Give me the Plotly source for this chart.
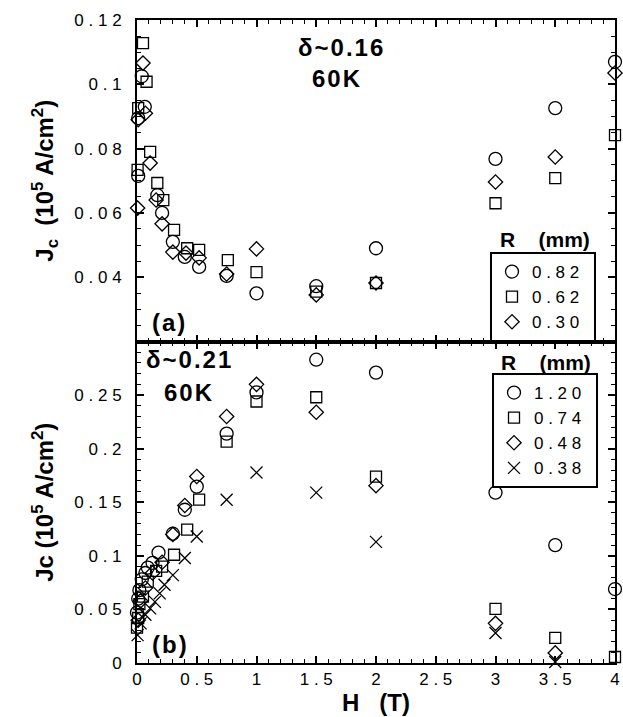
import plotly.graph_objects as go

# ---------------- data ----------------
# panel (a): delta ~ 0.16, 60 K
a_labels = ["0.82", "0.62", "0.30"]
a_c_H = [0.01, 0.01, 0.04, 0.065, 0.17, 0.21, 0.30, 0.40, 0.52, 0.75, 1.0, 1.5, 2.0, 3.0, 3.5, 4.0]
a_c_J = [0.0715, 0.0895, 0.1025, 0.0930, 0.0655, 0.0600, 0.0510, 0.0463, 0.0432, 0.0404, 0.0350, 0.0372, 0.0490, 0.0768, 0.0926, 0.1070]
a_s_H = [0.005, 0.01, 0.05, 0.08, 0.11, 0.17, 0.22, 0.31, 0.42, 0.52, 0.76, 1.0, 1.5, 2.0, 3.0, 3.5, 4.0]
a_s_J = [0.0734, 0.0926, 0.1128, 0.1008, 0.0790, 0.0693, 0.0640, 0.0547, 0.0490, 0.0485, 0.0453, 0.0416, 0.0355, 0.0382, 0.0630, 0.0708, 0.0842]
a_d_H = [0.005, 0.01, 0.05, 0.07, 0.11, 0.16, 0.21, 0.30, 0.41, 0.52, 0.75, 1.0, 1.5, 2.0, 3.0, 3.5, 4.0]
a_d_J = [0.0615, 0.0890, 0.1066, 0.0910, 0.0755, 0.0640, 0.0566, 0.0478, 0.0475, 0.0460, 0.0410, 0.0488, 0.0345, 0.0382, 0.0696, 0.0774, 0.1035]

# panel (b): delta ~ 0.21, 60 K
b_labels = ["1.20", "0.74", "0.48", "0.38"]
b_c_H = [0.0, 0.01, 0.02, 0.04, 0.07, 0.09, 0.13, 0.18, 0.30, 0.40, 0.50, 0.75, 1.0, 1.5, 2.0, 3.0, 3.5, 4.0]
b_c_J = [0.047, 0.060, 0.068, 0.078, 0.084, 0.089, 0.0935, 0.103, 0.1206, 0.143, 0.1646, 0.214, 0.2525, 0.283, 0.271, 0.159, 0.110, 0.069]
b_s_H = [0.0, 0.01, 0.02, 0.05, 0.09, 0.16, 0.21, 0.31, 0.42, 0.52, 0.75, 1.0, 1.5, 2.0, 3.0, 3.5, 4.0]
b_s_J = [0.033, 0.042, 0.055, 0.062, 0.076, 0.086, 0.090, 0.101, 0.1244, 0.1524, 0.2066, 0.244, 0.248, 0.174, 0.0505, 0.0234, 0.0056]
b_d_H = [0.01, 0.03, 0.07, 0.13, 0.21, 0.30, 0.40, 0.50, 0.75, 1.0, 1.5, 2.0, 3.0, 3.5]
b_d_J = [0.040, 0.058, 0.070, 0.084, 0.094, 0.120, 0.147, 0.174, 0.230, 0.260, 0.234, 0.1655, 0.037, 0.0094]
b_x_H = [0.005, 0.03, 0.07, 0.11, 0.15, 0.19, 0.23, 0.30, 0.40, 0.50, 0.75, 1.0, 1.5, 2.0, 3.0, 3.5]
b_x_J = [0.026, 0.037, 0.045, 0.051, 0.057, 0.065, 0.073, 0.082, 0.098, 0.118, 0.1524, 0.1777, 0.159, 0.113, 0.028, 0.001]

# tick labels
x_tickvals = [0, 0.5, 1, 1.5, 2, 2.5, 3, 3.5, 4]
x_ticktext = ["0", "0.5", "1", "1.5", "2", "2.5", "3", "3.5", "4"]
ya_tickvals = [0.04, 0.06, 0.08, 0.1, 0.12]
ya_ticktext = ["0.04", "0.06", "0.08", "0.1", "0.12"]
yb_tickvals = [0, 0.05, 0.1, 0.15, 0.2, 0.25]
yb_ticktext = ["0", "0.05", "0.1", "0.15", "0.2", "0.25"]


def spaced(s, sep=" "):
    return sep.join(list(s))


HAIR = "\u200a"
FONT = "Liberation Sans, Arial, Helvetica, sans-serif"
BLACK = "black"

FIG_W, FIG_H = 623, 717
PLOT_L, PLOT_R, PLOT_T, PLOT_B = 137, 615, 20, 663   # pixel positions of the plot area

fig = go.Figure()

mk_line = dict(color=BLACK, width=1.3)


def add(H, J, sym, size, name, xa, ya, legend):
    fig.add_trace(go.Scatter(
        x=H, y=J, mode="markers", name=spaced(name) + "\u00a0\u00a0",
        marker=dict(symbol=sym, size=size, color=BLACK, line=mk_line),
        xaxis=xa, yaxis=ya, legend=legend, cliponaxis=False,
    ))


add(a_c_H, a_c_J, "circle-open", 13, a_labels[0], "x", "y", "legend")
add(a_s_H, a_s_J, "square-open", 11, a_labels[1], "x", "y", "legend")
add(a_d_H, a_d_J, "diamond-open", 11, a_labels[2], "x", "y", "legend")

add(b_c_H, b_c_J, "circle-open", 13, b_labels[0], "x2", "y2", "legend2")
add(b_s_H, b_s_J, "square-open", 11, b_labels[1], "x2", "y2", "legend2")
add(b_d_H, b_d_J, "diamond-open", 11, b_labels[2], "x2", "y2", "legend2")
add(b_x_H, b_x_J, "x-thin-open", 12, b_labels[3], "x2", "y2", "legend2")

tickfont = dict(family=FONT, size=17, color=BLACK)
common_x = dict(
    range=[0, 4], showline=True, linecolor=BLACK, linewidth=2, mirror="allticks",
    ticks="inside", ticklen=7, tickwidth=1.5, tickcolor=BLACK,
    tickmode="array", tickvals=x_tickvals, ticktext=[spaced(t) for t in x_ticktext],
    minor=dict(tickmode="linear", tick0=0, dtick=0.1, ticks="inside", ticklen=4,
               tickwidth=1.2, tickcolor=BLACK),
    showgrid=False, zeroline=False, tickfont=tickfont, automargin=False,
)
common_y = dict(
    showline=True, linecolor=BLACK, linewidth=2, mirror="allticks",
    ticks="inside", ticklen=7, tickwidth=1.5, tickcolor=BLACK,
    showgrid=False, zeroline=False, tickfont=tickfont, ticklabelstandoff=10,
    automargin=False,
)

fig.update_layout(
    width=FIG_W, height=FIG_H,
    margin=dict(l=PLOT_L, r=FIG_W - PLOT_R, t=PLOT_T, b=FIG_H - PLOT_B),
    paper_bgcolor="white", plot_bgcolor="white",
    font=dict(family=FONT, color=BLACK),
    xaxis=dict(common_x, domain=[0, 1], anchor="y", showticklabels=False),
    yaxis=dict(common_y, domain=[0.5, 1], anchor="x", range=[0.02, 0.12],
               tickmode="array", tickvals=ya_tickvals,
               ticktext=[spaced(t) for t in ya_ticktext],
               minor=dict(tickmode="linear", tick0=0, dtick=0.005, ticks="inside",
                          ticklen=4, tickwidth=1.2, tickcolor=BLACK),
               title=dict(text="<b>J<sub>c</sub>  (10<sup>5</sup> A/cm<sup>2</sup>)</b>",
                          font=dict(family=FONT, size=24, color=BLACK), standoff=14)),
    xaxis2=dict(common_x, domain=[0, 1], anchor="y2", ticklabelstandoff=0,
                title=dict(text="<b>H   (T)</b>", font=dict(family=FONT, size=24, color=BLACK),
                           standoff=4)),
    yaxis2=dict(common_y, domain=[0, 0.5], anchor="x2", range=[0, 0.3],
                tickmode="array", tickvals=yb_tickvals,
                ticktext=[spaced(t) for t in yb_ticktext],
                minor=dict(tickmode="linear", tick0=0, dtick=0.01, ticks="inside",
                           ticklen=4, tickwidth=1.2, tickcolor=BLACK),
                title=dict(text="<b>Jc (10<sup>5</sup> A/cm<sup>2</sup>)</b>",
                           font=dict(family=FONT, size=24, color=BLACK), standoff=14)),
    legend=dict(x=(490 - PLOT_L) / 478, y=(PLOT_B - 252) / 643, xanchor="left", yanchor="top",
                bgcolor="white", bordercolor=BLACK, borderwidth=2,
                font=dict(family=FONT, size=17, color=BLACK), tracegroupgap=0,
                itemwidth=30),
    legend2=dict(x=(492 - PLOT_L) / 478, y=(PLOT_B - 373) / 643, xanchor="left", yanchor="top",
                 bgcolor="white", bordercolor=BLACK, borderwidth=2,
                 font=dict(family=FONT, size=17, color=BLACK), tracegroupgap=0,
                 itemwidth=30),
    showlegend=True,
)


def ann(text, x, y, size=20):
    fig.add_annotation(text="<b>%s</b>" % text, xref="paper", yref="paper",
                       x=(x - PLOT_L) / 478, y=(PLOT_B - y) / 643, showarrow=False,
                       font=dict(family=FONT, size=size, color=BLACK),
                       xanchor="center", yanchor="middle")


ann(spaced("δ~0.16", HAIR), 340, 48, 24)
ann(spaced("60K", HAIR), 336, 79, 24)
ann(spaced("(a)", HAIR), 168, 322, 24)
ann(spaced("δ~0.21", HAIR), 188, 360, 24)
ann(spaced("60K", HAIR), 188, 393, 24)
ann(spaced("(b)", HAIR), 169, 644, 24)
ann("R    (mm)", 545, 240, 21)
ann("R    (mm)", 546, 362, 21)

# the page body's default 8px margin would shift the figure; remove it
fig.write_html("out.html",
               config={"displayModeBar": False},
               post_script="document.body.style.margin='0px';"
                           "document.body.style.overflow='hidden';")
